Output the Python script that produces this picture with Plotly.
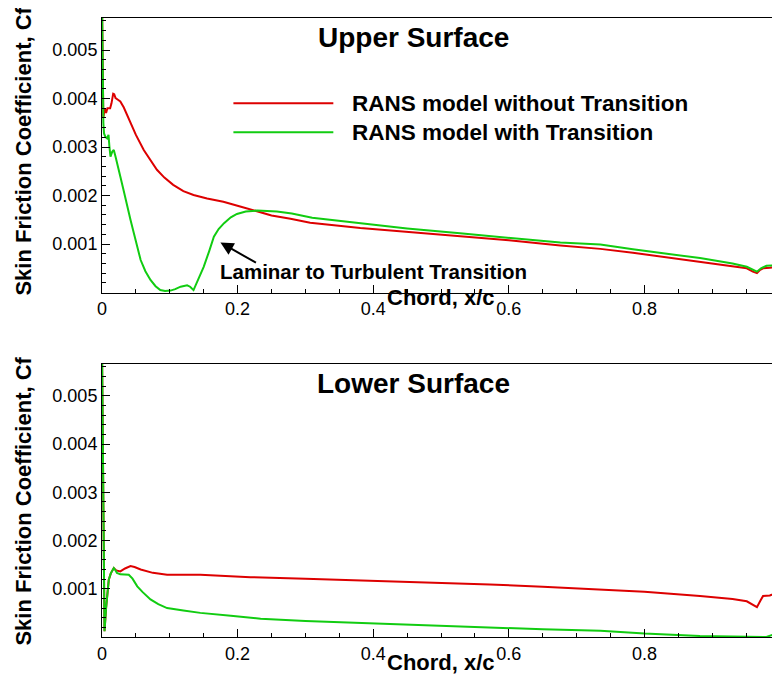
import plotly.graph_objects as go

# ---------------- data ----------------
upper_x_no = [0, 0.001, 0.002, 0.004, 0.006, 0.008, 0.010, 0.012, 0.014, 0.0165, 0.018, 0.020, 0.023, 0.027,
              0.032, 0.037, 0.042, 0.050, 0.0616, 0.070, 0.081, 0.092, 0.105, 0.120, 0.135, 0.155, 0.179,
              0.205, 0.229, 0.250, 0.278, 0.307, 0.381, 0.450, 0.528, 0.600, 0.676, 0.735, 0.783, 0.882,
              0.930, 0.951, 0.960, 0.966, 0.970, 0.975, 0.985, 1.0]
upper_cf_no = [0.0060, 0.0040, 0.0036, 0.0038, 0.0037, 0.0038, 0.0038, 0.0038, 0.0039, 0.0041, 0.00409,
               0.00401, 0.00398, 0.00394, 0.00382, 0.00366, 0.00349, 0.00325, 0.00294, 0.00276, 0.00253,
               0.00237, 0.00222, 0.00209, 0.00201, 0.00194, 0.00187, 0.00177, 0.00167, 0.00159, 0.00152,
               0.00144, 0.00133, 0.00125, 0.00116, 0.00108, 0.00097, 0.00090, 0.00082, 0.00064, 0.00055,
               0.00050, 0.00043, 0.00040, 0.00046, 0.00050, 0.00051, 0.00053]

upper_x_tr = [0, 0.001, 0.002, 0.003, 0.005, 0.0075, 0.0096, 0.011, 0.0125, 0.015, 0.0174, 0.020, 0.023,
              0.027, 0.032, 0.037, 0.042, 0.047, 0.052, 0.057, 0.064, 0.0715, 0.079, 0.086, 0.093, 0.101,
              0.108, 0.116, 0.1255, 0.130, 0.135, 0.142, 0.150, 0.158, 0.165, 0.172, 0.180, 0.190, 0.199,
              0.212, 0.229, 0.258, 0.280, 0.310, 0.381, 0.450, 0.528, 0.600, 0.676, 0.735, 0.783, 0.882,
              0.930, 0.951, 0.960, 0.966, 0.972, 0.980, 1.0]
upper_cf_tr = [0.0060, 0.0045, 0.0035, 0.00328, 0.00321, 0.00318, 0.00325, 0.0030, 0.0028, 0.0029, 0.00294,
               0.0028, 0.0026, 0.00239, 0.0021, 0.00177, 0.0015, 0.00122, 0.00094, 0.00067, 0.00044,
               0.00026, 0.00013, 0.00005, 0.00003, 0.00004, 0.00007, 0.00012, 0.00015, 0.00012, 0.00005,
               0.00027, 0.00053, 0.00085, 0.00115, 0.00131, 0.00143, 0.00155, 0.00162, 0.00167, 0.00169,
               0.00167, 0.00163, 0.00154, 0.00143, 0.00132, 0.00122, 0.00113, 0.00103, 0.00099, 0.00089,
               0.00071, 0.00060, 0.00053, 0.00046, 0.00043, 0.00050, 0.00055, 0.00057]

lower_x_no = [0, 0.001, 0.002, 0.0037, 0.006, 0.008, 0.010, 0.013, 0.0174, 0.021, 0.027, 0.034, 0.042, 0.048,
              0.057, 0.075, 0.096, 0.145, 0.219, 0.30, 0.396, 0.490, 0.572, 0.65, 0.735, 0.80, 0.882, 0.930,
              0.951, 0.960, 0.966, 0.971, 0.975, 0.985, 1.0]
lower_cf_no = [0.0060, 0.0040, 0.0020, 0.00012, 0.0006, 0.0010, 0.00119, 0.00132, 0.00143, 0.00138, 0.00136,
               0.00142, 0.00147, 0.00145, 0.00140, 0.00133, 0.00129, 0.00129, 0.00124, 0.00121, 0.00117,
               0.00113, 0.00109, 0.00104, 0.00099, 0.00094, 0.00085, 0.00079, 0.00074, 0.00066, 0.00062,
               0.00075, 0.00085, 0.00086, 0.00095]

lower_x_tr = [0, 0.001, 0.002, 0.0037, 0.006, 0.008, 0.010, 0.013, 0.0174, 0.020, 0.022, 0.027, 0.032, 0.0395,
              0.045, 0.052, 0.060, 0.0715, 0.083, 0.096, 0.120, 0.145, 0.190, 0.234, 0.30, 0.396, 0.490,
              0.572, 0.65, 0.735, 0.80, 0.882, 0.95, 0.98, 0.99, 1.0]
lower_cf_tr = [0.0060, 0.0040, 0.0020, 0.00012, 0.0006, 0.0010, 0.00119, 0.00132, 0.00143, 0.00138, 0.00133,
               0.0013, 0.00129, 0.00129, 0.00121, 0.00105, 0.00093, 0.00078, 0.00068, 0.00060, 0.00055,
               0.00050, 0.00044, 0.00038, 0.00033, 0.00028, 0.00023, 0.00020, 0.00016, 0.00013, 0.00007,
               0.00002, 0.00000, 0.00000, 0.00005, 0.00012]

y_tick_vals = [0.001, 0.002, 0.003, 0.004, 0.005]
y_tick_text = ["0.001", "0.002", "0.003", "0.004", "0.005"]
x_tick_vals = [0, 0.2, 0.4, 0.6, 0.8, 1.0]
x_tick_text = ["0", "0.2", "0.4", "0.6", "0.8", "1"]

series_names = ["RANS model without Transition", "RANS model with Transition"]
panel_titles = ["Upper Surface", "Lower Surface"]
x_title = "Chord, x/c"
y_title = "Skin Friction Coefficient, Cf"
note_text = "Laminar to Turbulent Transition"

# ---------------- styles ----------------
RED = "#dd0000"
GREEN = "#11cc11"
FONT = "Liberation Sans, Arial, Helvetica, sans-serif"
LW = 2

fig = go.Figure()
fig.add_trace(go.Scatter(x=upper_x_no, y=upper_cf_no, mode="lines", line=dict(color=RED, width=LW),
                         xaxis="x", yaxis="y", showlegend=False))
fig.add_trace(go.Scatter(x=upper_x_tr, y=upper_cf_tr, mode="lines", line=dict(color=GREEN, width=LW),
                         xaxis="x", yaxis="y", showlegend=False))
fig.add_trace(go.Scatter(x=lower_x_no, y=lower_cf_no, mode="lines", line=dict(color=RED, width=LW),
                         xaxis="x2", yaxis="y2", showlegend=False))
fig.add_trace(go.Scatter(x=lower_x_tr, y=lower_cf_tr, mode="lines", line=dict(color=GREEN, width=LW),
                         xaxis="x2", yaxis="y2", showlegend=False))

top_dom = [0.5565, 1.0]
bot_dom = [0.0, 0.441]

def xax(anchor):
    return dict(range=[0, 1], tickvals=x_tick_vals, ticktext=x_tick_text, ticks="inside", ticklen=8,
                tickcolor="black", showline=True, linecolor="black", linewidth=1, mirror=True,
                showgrid=False, zeroline=False, anchor=anchor, domain=[0, 1],
                tickfont=dict(family=FONT, size=18, color="black"),
                minor=dict(dtick=0.05, tick0=0, ticks="inside", ticklen=4, tickcolor="black"))

def yax(anchor, dom):
    return dict(range=[0, 0.00566], tickvals=y_tick_vals, ticktext=y_tick_text, ticks="inside", ticklen=8,
                tickcolor="black", showline=True, linecolor="black", linewidth=1, mirror=False,
                showgrid=False, zeroline=False, anchor=anchor, domain=dom,
                tickfont=dict(family=FONT, size=18, color="black"),
                minor=dict(dtick=0.0002, tick0=0, ticks="inside", ticklen=4, tickcolor="black"))

def px_x(sx):
    return (sx - 101.5) / 678.5

def px_y(sy):
    return (637 - sy) / 619

annotations = []
shapes = []
# panel titles
for title, sy in ((panel_titles[0], 38), (panel_titles[1], 383)):
    annotations.append(dict(text="<b>%s</b>" % title, x=px_x(413), y=px_y(sy), xref="paper", yref="paper",
                            xanchor="center", yanchor="middle", showarrow=False,
                            font=dict(family=FONT, size=28, color="black")))
# x titles
for sy in (297, 662):
    annotations.append(dict(text="<b>%s</b>" % x_title, x=px_x(441), y=px_y(sy), xref="paper", yref="paper",
                            xanchor="center", yanchor="middle", showarrow=False,
                            font=dict(family=FONT, size=22, color="black")))
# y titles
for sy in (151, 501):
    annotations.append(dict(text="<b>%s</b>" % y_title, x=px_x(22), y=px_y(sy), xref="paper", yref="paper",
                            xanchor="center", yanchor="middle", showarrow=False, textangle=-90,
                            font=dict(family=FONT, size=22, color="black")))
# legend
for name, col, sy in ((series_names[0], RED, 103.3), (series_names[1], GREEN, 132.3)):
    yp = px_y(sy)
    shapes.append(dict(type="line", xref="paper", yref="paper", x0=px_x(233), x1=px_x(333), y0=yp, y1=yp,
                       line=dict(color=col, width=LW)))
    annotations.append(dict(text="<b>%s</b>" % name, x=px_x(350), y=yp, xref="paper", yref="paper",
                            xanchor="left", yanchor="middle", showarrow=False,
                            font=dict(family=FONT, size=22.5, color="black")))
# transition note with arrow
annotations.append(dict(text="", x=0.1747, y=0.00103, xref="x", yref="y", ax=37, ay=21, showarrow=True,
                        arrowhead=2, arrowsize=1.3, arrowwidth=2, arrowcolor="black"))
annotations.append(dict(text="<b>%s</b>" % note_text, x=0.4, y=0.000429, xref="x", yref="y", showarrow=False,
                        xanchor="center", yanchor="middle",
                        font=dict(family=FONT, size=20.5, color="black")))

fig.update_layout(
    width=780, height=677,
    margin=dict(l=93.5, r=8, t=10, b=48, autoexpand=False),
    paper_bgcolor="white", plot_bgcolor="white",
    xaxis=xax("y"), yaxis=yax("x", top_dom),
    xaxis2=xax("y2"), yaxis2=yax("x2", bot_dom),
    annotations=annotations, shapes=shapes,
    showlegend=False,
)

fig.write_html("out.html")
